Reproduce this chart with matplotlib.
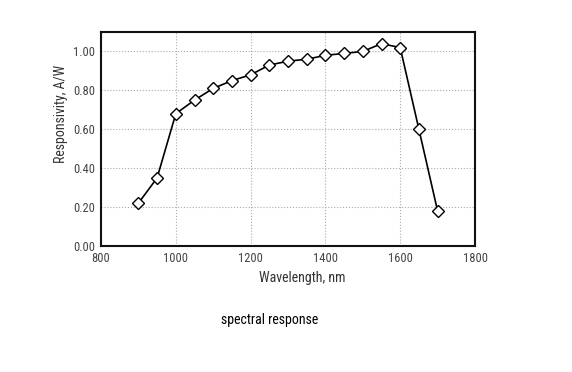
import matplotlib
matplotlib.use("Agg")
import matplotlib.pyplot as plt
from matplotlib import font_manager

wavelength = [900, 950, 1000, 1050, 1100, 1150, 1200, 1250, 1300, 1350, 1400, 1450, 1500, 1550, 1600, 1650, 1700]
responsivity = [0.22, 0.35, 0.68, 0.75, 0.81, 0.85, 0.88, 0.93, 0.95, 0.96, 0.98, 0.99, 1.00, 1.04, 1.02, 0.60, 0.18]
xticks = [800, 1000, 1200, 1400, 1600, 1800]
yticks = [0.0, 0.2, 0.4, 0.6, 0.8, 1.0]

names = {f.name for f in font_manager.fontManager.ttflist}
fam = 'Roboto Condensed' if 'Roboto Condensed' in names else 'Liberation Sans'
plt.rcParams['font.family'] = [fam, 'DejaVu Sans']

fig = plt.figure(figsize=(5.72, 3.72), dpi=100)
ax = fig.add_axes([101/572, 1-246/372, 374/572, 214/372])
ax.plot(wavelength, responsivity, color='black', lw=1.2, marker='D', ms=6,
        mfc='white', mec='black', mew=1.0, zorder=3)
ax.set_xlim(800, 1800)
ax.set_ylim(0, 1.1)
ax.set_xticks(xticks)
ax.set_yticks(yticks)
ax.set_yticklabels([f"{v:.2f}" for v in yticks])
ax.grid(True, color='#aaaaaa', ls=':', lw=0.8)
ax.tick_params(length=0, labelsize=9, colors='#444444', pad=4)
for s in ax.spines.values():
    s.set_linewidth(1.5)
    s.set_color('#111111')
ax.set_xlabel('Wavelength, nm', fontsize=10, color='#333333')
ax.set_ylabel('Responsivity, A/W', fontsize=10, color='#333333')
ax.xaxis.set_label_coords(0.537, -0.118)
ax.yaxis.set_label_coords(-0.088, 0.619)
fig.text(270/572, 1-320/372, 'spectral response', ha='center', va='center', fontsize=10, color='black')
fig.savefig('out.png', dpi=100)
